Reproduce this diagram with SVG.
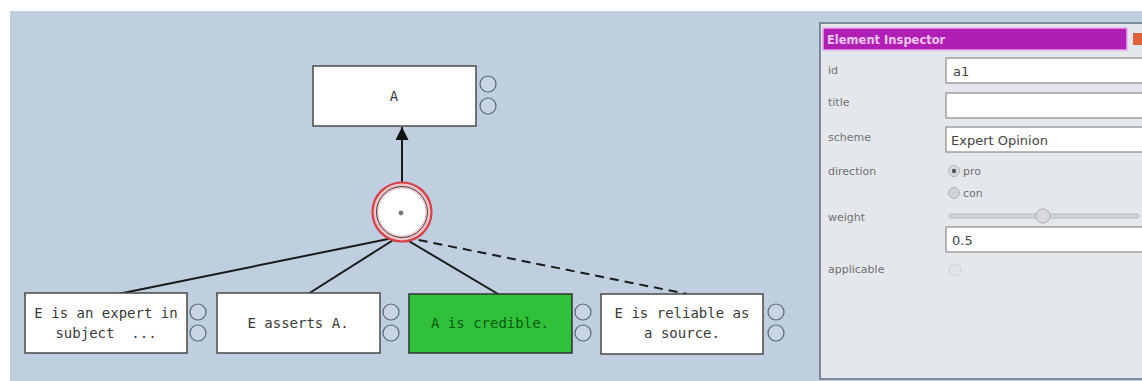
<svg xmlns="http://www.w3.org/2000/svg" width="1142" height="381" viewBox="0 0 1142 381">
<defs>
<style>
.node rect{fill:#ffffff;stroke:#4a4a4a;stroke-width:1.5}
.node text{font-family:"DejaVu Sans Mono","Liberation Mono",monospace;font-size:14px;fill:#3a3a3a;text-anchor:middle;white-space:pre}
.port{fill:#c6d4e4;stroke:#56657a;stroke-width:1.2}
.conn{stroke:#1a1a1a;stroke-width:2;fill:none}
.lbl{font-family:"DejaVu Sans","Liberation Sans",sans-serif;font-size:11px;fill:#707070}
.inp{fill:#ffffff;stroke:#8a8a8a;stroke-width:1.2}
.val{font-family:"DejaVu Sans","Liberation Sans",sans-serif;font-size:13px;fill:#444}
</style>
<marker id="arr" viewBox="0 0 10 10" refX="10" refY="5" markerWidth="6.5" markerHeight="6.5" orient="auto" markerUnits="strokeWidth">
<path d="M0,0 L10,5 L0,10 z" fill="#111"/>
</marker>
</defs>
<rect x="0" y="0" width="1142" height="381" fill="#ffffff"/>
<rect x="10" y="11" width="1132" height="370" fill="#bfcfe0"/>

<g id="connectors">
<line class="conn" x1="402" y1="186" x2="402" y2="127" marker-end="url(#arr)"/>
<line class="conn" x1="398" y1="237" x2="118" y2="294"/>
<line class="conn" x1="398" y1="237" x2="308" y2="294"/>
<line class="conn" x1="402" y1="237" x2="498" y2="294"/>
<line class="conn" x1="404" y1="237" x2="687" y2="294" stroke-dasharray="9,6"/>
</g>

<g id="node-A" class="node">
<rect x="313" y="66" width="163" height="60"/>
<text x="394" y="101">A</text>
<circle class="port" cx="488" cy="84" r="8"/>
<circle class="port" cx="488" cy="106" r="8"/>
</g>

<g id="node-a1">
<circle cx="402" cy="212" r="29.5" fill="#f1c4ca" stroke="#d84048" stroke-width="2.2"/>
<circle cx="402" cy="212" r="25.5" fill="none" stroke="#444" stroke-width="1"/>
<circle cx="402" cy="212" r="23.5" fill="#ffffff"/>
<circle cx="401" cy="213" r="2.4" fill="#777"/>
</g>

<g id="node-expert" class="node">
<rect x="25" y="293" width="162" height="60"/>
<text x="106" y="318">E is an expert in</text>
<text x="106" y="338" xml:space="preserve">subject  ...</text>
<circle class="port" cx="198" cy="312" r="8"/>
<circle class="port" cx="198" cy="333" r="8"/>
</g>

<g id="node-asserts" class="node">
<rect x="217" y="293" width="163" height="60"/>
<text x="298" y="328">E asserts A.</text>
<circle class="port" cx="391" cy="312" r="8"/>
<circle class="port" cx="391" cy="333" r="8"/>
</g>

<g id="node-credible" class="node">
<rect x="409" y="294" width="163" height="59" style="fill:#2fc13a;stroke:#333"/>
<text x="490" y="328" style="fill:#0a5a10">A is credible.</text>
<circle class="port" cx="583" cy="312" r="8"/>
<circle class="port" cx="583" cy="333" r="8"/>
</g>

<g id="node-reliable" class="node">
<rect x="601" y="294" width="162" height="60"/>
<text x="682" y="318">E is reliable as</text>
<text x="682" y="338">a source.</text>
<circle class="port" cx="776" cy="312" r="8"/>
<circle class="port" cx="776" cy="333" r="8"/>
</g>

<g id="inspector">
<rect x="820" y="23" width="325" height="356" fill="#e4e8ec" stroke="#7a8a9a" stroke-width="2"/>
<rect x="823" y="28" width="304" height="22" fill="#b01eb4" stroke="#e8a8ec" stroke-width="1.5"/>
<text x="827" y="44" font-family="DejaVu Sans, Liberation Sans, sans-serif" font-size="11.5" font-weight="bold" fill="#f0c8f4">Element Inspector</text>
<rect x="1133" y="33" width="9" height="12" fill="#e0603a"/>
<text class="lbl" x="828" y="74">id</text>
<text class="lbl" x="828" y="106">title</text>
<text class="lbl" x="828" y="141">scheme</text>
<text class="lbl" x="828" y="175">direction</text>
<text class="lbl" x="828" y="221">weight</text>
<text class="lbl" x="828" y="273">applicable</text>
<rect class="inp" x="946" y="58" width="198" height="25"/>
<text class="val" x="953" y="76" font-family="DejaVu Serif, Liberation Serif, serif">a1</text>
<rect class="inp" x="946" y="93" width="198" height="25"/>
<rect class="inp" x="946" y="127" width="198" height="25"/>
<text class="val" x="951" y="145">Expert Opinion</text>
<circle cx="954" cy="171" r="5.5" fill="#d8dce0" stroke="#b0b4b8"/>
<circle cx="954" cy="171" r="2.2" fill="#555"/>
<text class="lbl" x="963" y="175">pro</text>
<circle cx="954" cy="193" r="5.5" fill="#d0d4d8" stroke="#b0b4b8"/>
<text class="lbl" x="963" y="197">con</text>
<rect x="949" y="214" width="190" height="4" rx="2" fill="#d0d4d8" stroke="#b8bcc0"/>
<circle cx="1043" cy="216" r="7" fill="#d8dadc" stroke="#a8acb0"/>
<rect class="inp" x="946" y="227" width="198" height="25"/>
<text class="val" x="952" y="245">0.5</text>
<circle cx="955" cy="270" r="6" fill="#e0e4e8" stroke="#cdd2d6"/>
</g>
</svg>
